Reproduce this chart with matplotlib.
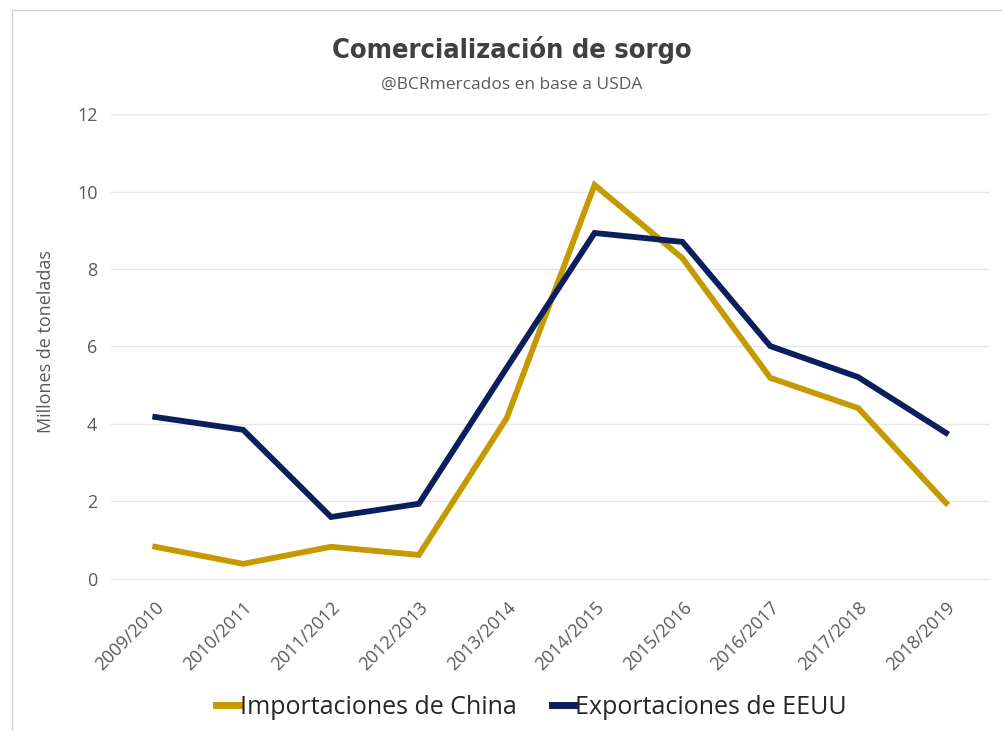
import matplotlib
matplotlib.use("Agg")
import matplotlib.pyplot as plt
from matplotlib.patches import Rectangle

campaigns = ["2009/2010", "2010/2011", "2011/2012", "2012/2013", "2013/2014",
             "2014/2015", "2015/2016", "2016/2017", "2017/2018", "2018/2019"]
china_imports = [0.83, 0.39, 0.83, 0.62, 4.15, 10.17, 8.28, 5.19, 4.41, 1.96]
us_exports = [4.18, 3.85, 1.60, 1.94, 5.45, 8.93, 8.70, 6.01, 5.21, 3.77]
y_ticks = [0, 2, 4, 6, 8, 10, 12]

GOLD = "#C49A00"
NAVY = "#0B1F5C"
GRAY = "#595959"

plt.rcParams["font.family"] = ["Open Sans", "DejaVu Sans"]

fig = plt.figure(figsize=(10.03, 7.31), dpi=100)
ax = fig.add_axes([0.111, 0.208, 0.876, 0.636])

x = list(range(len(campaigns)))
ax.plot(x, china_imports, color=GOLD, lw=4.2, solid_joinstyle="miter",
        label="Importaciones de China")
ax.plot(x, us_exports, color=NAVY, lw=4.2, solid_joinstyle="miter",
        label="Exportaciones de EEUU")

ax.set_xlim(-0.5, len(campaigns) - 0.5)
ax.set_ylim(0, 12)
ax.set_yticks(y_ticks)
ax.set_yticklabels([str(v) for v in y_ticks], fontsize=13, color=GRAY)
ax.set_xticks(x)
ax.set_xticklabels(campaigns, rotation=45, ha="right", va="top",
                   rotation_mode="anchor", fontsize=13, color=GRAY)
ax.tick_params(length=0, pad=10)
ax.tick_params(axis="x", pad=14)
ax.grid(axis="y", color="#E6E6E6", lw=1)
ax.set_axisbelow(True)
for s in ax.spines.values():
    s.set_visible(False)
ax.spines["bottom"].set_visible(True)
ax.spines["bottom"].set_color("#E6E6E6")

ax.set_ylabel("Millones de toneladas", fontsize=13, color=GRAY)
ax.yaxis.set_label_coords(-0.064, 0.51)

fig.text(0.51, 0.932, "Comercialización de sorgo", ha="center", va="center",
         fontsize=19.5, fontweight="bold", color="#404040",
         family="DejaVu Sans", fontstretch="condensed")
fig.text(0.51, 0.884, "@BCRmercados en base a USDA", ha="center", va="center",
         fontsize=12.5, color=GRAY)

leg = fig.legend(loc="center", bbox_to_anchor=(0.53, 0.032), ncol=2,
                 frameon=False, fontsize=18, handlelength=0.9,
                 handletextpad=0.05, columnspacing=1.4)
for t in leg.get_texts():
    t.set_color("#262626")
for h in leg.get_lines():
    h.set_linewidth(5)

fig.add_artist(Rectangle((0.012, -0.01), 1.0, 0.997, transform=fig.transFigure,
                         fill=False, edgecolor="#D0D0D0", lw=1))

fig.savefig("out.png", dpi=100)
